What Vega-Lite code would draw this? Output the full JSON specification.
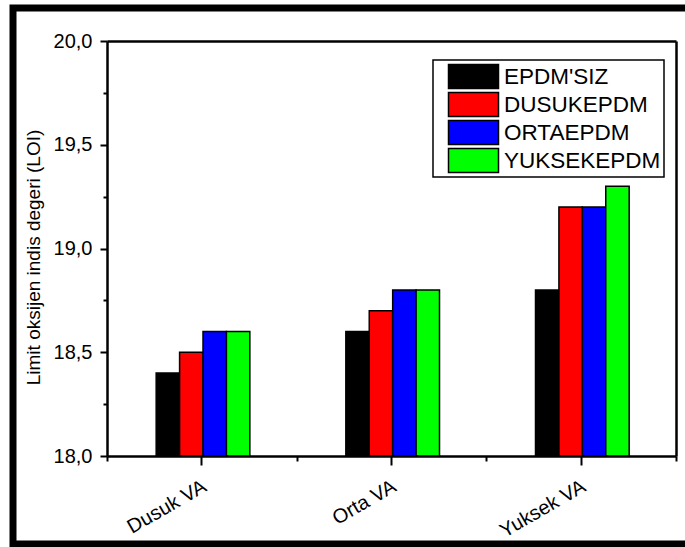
{
  "$schema": "https://vega.github.io/schema/vega-lite/v6.json",
  "autosize": {"type": "none"},
  "width": 676,
  "height": 536,
  "padding": {"left": 13, "top": 8, "right": -4, "bottom": 3},
  "background": "white",
  "data": {
    "values": [
      {"grup": "Dusuk VA", "seri": "EPDM'SIZ", "loi": 18.4},
      {"grup": "Dusuk VA", "seri": "DUSUKEPDM", "loi": 18.5},
      {"grup": "Dusuk VA", "seri": "ORTAEPDM", "loi": 18.6},
      {"grup": "Dusuk VA", "seri": "YUKSEKEPDM", "loi": 18.6},
      {"grup": "Orta VA", "seri": "EPDM'SIZ", "loi": 18.6},
      {"grup": "Orta VA", "seri": "DUSUKEPDM", "loi": 18.7},
      {"grup": "Orta VA", "seri": "ORTAEPDM", "loi": 18.8},
      {"grup": "Orta VA", "seri": "YUKSEKEPDM", "loi": 18.8},
      {"grup": "Yuksek VA", "seri": "EPDM'SIZ", "loi": 18.8},
      {"grup": "Yuksek VA", "seri": "DUSUKEPDM", "loi": 19.2},
      {"grup": "Yuksek VA", "seri": "ORTAEPDM", "loi": 19.2},
      {"grup": "Yuksek VA", "seri": "YUKSEKEPDM", "loi": 19.3}
    ]
  },
  "layer": [
    {
      "mark": {"type": "bar", "stroke": "black", "strokeWidth": 1.5, "opacity": 1},
      "encoding": {
        "x": {
          "field": "grup", "type": "nominal", "sort": ["Dusuk VA", "Orta VA", "Yuksek VA"],
          "scale": {"range": [94, 663], "paddingInner": 0, "paddingOuter": 0},
          "axis": {
            "orient": "bottom", "offset": -88, "title": null,
            "domainWidth": 2.5, "tickSize": 9, "tickWidth": 2,
            "labelAngle": -30, "labelAlign": "right", "labelBaseline": "top",
            "labelPadding": 11, "labelOffset": -2, "labelFontSize": 20
          }
        },
        "xOffset": {
          "field": "seri", "type": "nominal",
          "scale": {
            "domain": ["bos1", "bos2", "EPDM'SIZ", "DUSUKEPDM", "ORTAEPDM", "YUKSEKEPDM", "bos3", "bos4"],
            "paddingInner": 0, "paddingOuter": 0.05, "align": 1
          }
        },
        "y": {
          "field": "loi", "type": "quantitative",
          "scale": {"domain": [18, 20], "range": [448, 33], "nice": false, "zero": false},
          "axis": {
            "orient": "left", "offset": -94,
            "title": "Limit oksijen indis degeri (LOI)",
            "titleFontSize": 19, "titlePadding": 10, "titleY": 249,
            "values": [18, 18.5, 19, 19.5, 20],
            "labelExpr": "replace(format(datum.value, '.1f'), '.', ',')",
            "labelFontSize": 20, "labelPadding": 8, "labelFlush": false, "labelOverlap": false,
            "domainWidth": 2.5, "tickSize": 7, "tickWidth": 2
          }
        },
        "y2": {"datum": 18},
        "color": {
          "field": "seri", "type": "nominal",
          "sort": ["EPDM'SIZ", "DUSUKEPDM", "ORTAEPDM", "YUKSEKEPDM"],
          "scale": {
            "domain": ["EPDM'SIZ", "DUSUKEPDM", "ORTAEPDM", "YUKSEKEPDM"],
            "range": ["#000000", "#ff0000", "#0000ff", "#00ff00"]
          },
          "legend": {
            "orient": "none", "legendX": 420, "legendY": 52, "title": null,
            "strokeColor": "black", "fillColor": "white", "padding": 3,
            "symbolType": "M-2,-0.96H2V0.96H-2Z", "symbolSize": 625,
            "symbolStrokeColor": "black", "symbolStrokeWidth": 1.5, "symbolOpacity": 1,
            "symbolOffset": 24, "labelOffset": 17, "rowPadding": 1, "clipHeight": 27,
            "labelFontSize": 22.5, "labelColor": "black", "labelFont": "Liberation Sans"
          }
        }
      }
    },
    {
      "mark": {"type": "point", "opacity": 0},
      "encoding": {
        "x": {
          "field": "grup", "type": "nominal", "sort": ["Dusuk VA", "Orta VA", "Yuksek VA"],
          "axis": {
            "orient": "bottom", "offset": -88, "title": null, "domain": false,
            "labels": false, "tickBand": "extent", "tickSize": 5, "tickWidth": 2
          }
        },
        "y": {
          "field": "loi", "type": "quantitative",
          "axis": {
            "orient": "left", "offset": -94, "title": null, "domain": false,
            "labels": false, "values": [18.25, 18.75, 19.25, 19.75],
            "tickSize": 4, "tickWidth": 2
          }
        }
      }
    },
    {
      "mark": {"type": "point", "opacity": 0},
      "encoding": {
        "x": {
          "field": "grup", "type": "nominal", "sort": ["Dusuk VA", "Orta VA", "Yuksek VA"],
          "axis": {
            "orient": "top", "offset": -33, "title": null, "domainWidth": 2.5,
            "labels": false, "ticks": false
          }
        },
        "y": {
          "field": "loi", "type": "quantitative",
          "axis": {
            "orient": "right", "offset": -13, "title": null, "domainWidth": 2.5,
            "labels": false, "ticks": false
          }
        }
      }
    }
  ],
  "resolve": {"axis": {"x": "independent", "y": "independent"}},
  "config": {
    "view": {"stroke": "black", "strokeWidth": 7},
    "font": "Liberation Sans",
    "legend": {"strokeWidth": 1.5},
    "axis": {
      "grid": false, "domainColor": "black", "tickColor": "black",
      "labelColor": "black", "titleColor": "black", "titleFontWeight": "normal",
      "labelFont": "Liberation Sans", "titleFont": "Liberation Sans"
    }
  }
}
